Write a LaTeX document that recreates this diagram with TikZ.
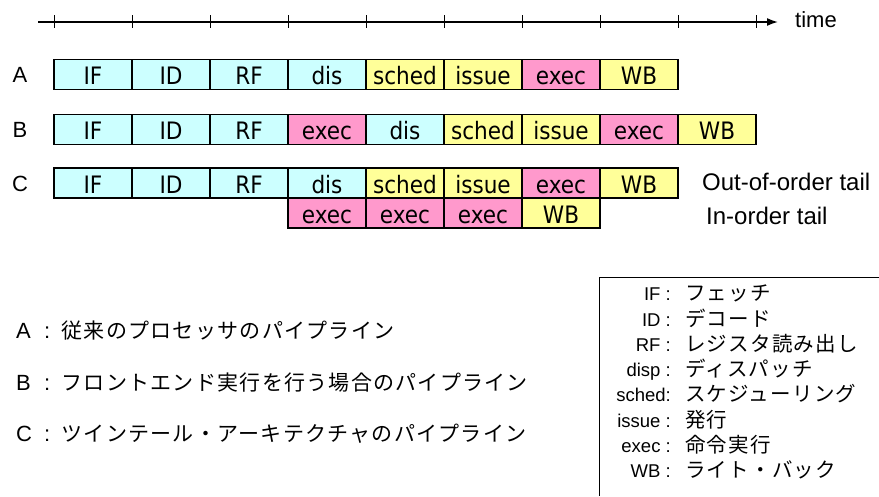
\documentclass[tikz,border=0pt]{standalone}
\usepackage{fontspec}
\setmainfont{Liberation Sans}
\newfontfamily\boxfont[FakeStretch=0.9]{DejaVu Sans}
\newfontfamily\jpfont[LetterSpace=6]{Noto Sans CJK JP}
\usetikzlibrary{arrows.meta}
\definecolor{cyanbox}{HTML}{CCFFFF}
\definecolor{yellowbox}{HTML}{FFFF99}
\definecolor{pinkbox}{HTML}{FF99CC}
\begin{document}
\begin{tikzpicture}[x=1pt,y=-1pt,
  stage/.style={draw=black,line width=1.6pt,minimum width=78pt,minimum height=30pt,
    inner sep=0pt,text height=24pt,text depth=3pt,font=\boxfont\fontsize{24}{28}\selectfont},
  fe/.style={stage,fill=cyanbox},
  be/.style={stage,fill=yellowbox},
  ex/.style={stage,fill=pinkbox},
  rowlabel/.style={anchor=base,inner sep=0pt,font=\fontsize{22}{24}\selectfont},
  tail/.style={anchor=base west,inner sep=0pt,font=\fontsize{24}{28}\selectfont},
  legkey/.style={anchor=base east,inner sep=0pt,font=\fontsize{18.5}{22}\selectfont},
  legval/.style={anchor=base west,inner sep=0pt,font=\jpfont\fontsize{20.5}{22}\selectfont},
  desckey/.style={anchor=base west,inner sep=0pt,font=\fontsize{22}{24}\selectfont},
  descval/.style={anchor=base west,inner sep=0pt,font=\jpfont\fontsize{21}{24}\selectfont}
]
\useasboundingbox (0,0) rectangle (879,496);

% time axis
\coordinate (t0) at (38,22);
\coordinate (t1) at (778,22);
\draw[line width=1.6pt,-{Latex[length=11pt,width=8pt]}] (t0) -- (t1);
\foreach \k in {0,...,9}{
  \draw[line width=1pt] (54+78*\k,15) -- (54+78*\k,28);
}
\node[anchor=base west,inner sep=0pt,font=\fontsize{22}{26}\selectfont] (time) at (795,27) {time};

% row labels
\node[rowlabel] (lA) at (20,82) {A};
\node[rowlabel] (lB) at (20,137) {B};
\node[rowlabel] (lC) at (20,191) {C};

% row A
\node[fe] (a1) at (93,74.3) {IF};
\node[fe] (a2) at (171,74.3) {ID};
\node[fe] (a3) at (249,74.3) {RF};
\node[fe] (a4) at (327,74.3) {dis};
\node[be] (a5) at (405,74.3) {sched};
\node[be] (a6) at (483,74.3) {issue};
\node[ex] (a7) at (561,74.3) {exec};
\node[be] (a8) at (639,74.3) {WB};

% row B
\node[fe] (b1) at (93,129.3) {IF};
\node[fe] (b2) at (171,129.3) {ID};
\node[fe] (b3) at (249,129.3) {RF};
\node[ex] (b4) at (327,129.3) {exec};
\node[fe] (b5) at (405,129.3) {dis};
\node[be] (b6) at (483,129.3) {sched};
\node[be] (b7) at (561,129.3) {issue};
\node[ex] (b8) at (639,129.3) {exec};
\node[be] (b9) at (717,129.3) {WB};

% row C
\node[fe] (c1) at (93,183) {IF};
\node[fe] (c2) at (171,183) {ID};
\node[fe] (c3) at (249,183) {RF};
\node[fe] (c4) at (327,183) {dis};
\node[be] (c5) at (405,183) {sched};
\node[be] (c6) at (483,183) {issue};
\node[ex] (c7) at (561,183) {exec};
\node[be] (c8) at (639,183) {WB};
\node[ex] (d1) at (327,213) {exec};
\node[ex] (d2) at (405,213) {exec};
\node[ex] (d3) at (483,213) {exec};
\node[be] (d4) at (561,213) {WB};

\node[tail] (ooo) at (702,190) {Out-of-order tail};
\node[tail] (ino) at (706,224.5) {In-order tail};

% descriptions
\node[desckey] (kA) at (16,338) {A};
\node[desckey] (cA) at (44,338) {:};
\node[descval] (vA) at (61.5,338) {従来のプロセッサのパイプライン};
\node[desckey] (kB) at (16,390) {B};
\node[desckey] (cB) at (44,390) {:};
\node[descval] (vB) at (61.5,390) {フロントエンド実行を行う場合のパイプライン};
\node[desckey] (kC) at (16,441.5) {C};
\node[desckey] (cC) at (44,441.5) {:};
\node[descval] (vC) at (61.5,441.5) {ツインテール・アーキテクチャのパイプライン};

% legend box
\coordinate (g1) at (879,277);
\coordinate (g2) at (599,277);
\coordinate (g3) at (599,496);
\draw[line width=1pt] (g1) -- (g2) -- (g3);

\node[legkey] (k1) at (671,300.7) {IF :};
\node[legval] (v1) at (685,300.7) {フェッチ};
\node[legkey] (k2) at (671,326) {ID :};
\node[legval] (v2) at (685,326) {デコード};
\node[legkey] (k3) at (671,351.3) {RF :};
\node[legval] (v3) at (685,351.3) {レジスタ読み出し};
\node[legkey] (k4) at (671,376.6) {disp :};
\node[legval] (v4) at (685,376.6) {ディスパッチ};
\node[legkey] (k5) at (671,401.9) {sched:};
\node[legval] (v5) at (685,401.9) {スケジューリング};
\node[legkey] (k6) at (671,427.2) {issue :};
\node[legval] (v6) at (685,427.2) {発行};
\node[legkey] (k7) at (671,452.5) {exec :};
\node[legval] (v7) at (685,452.5) {命令実行};
\node[legkey] (k8) at (671,477.8) {WB :};
\node[legval] (v8) at (685,477.8) {ライト・バック};
\end{tikzpicture}
\end{document}
